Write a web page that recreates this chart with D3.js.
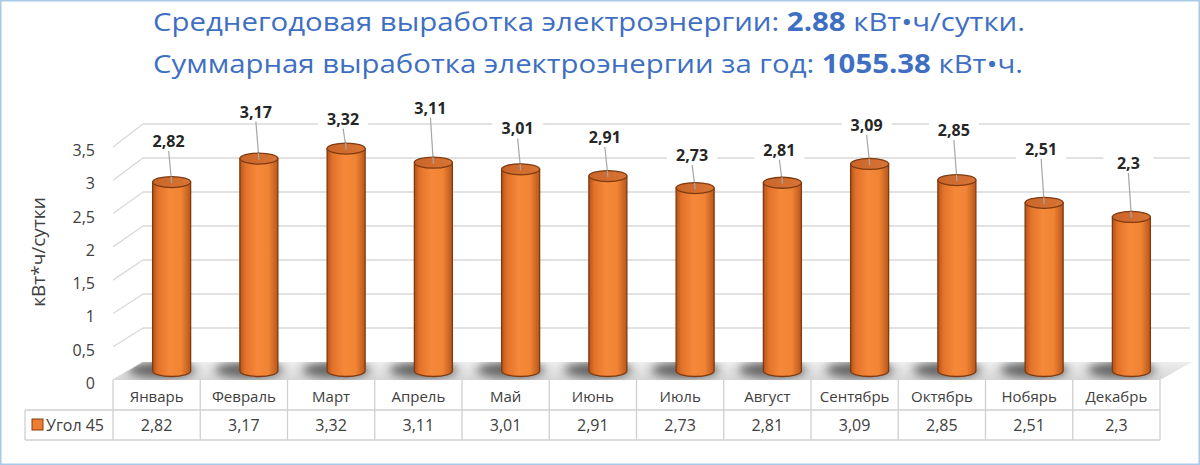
<!DOCTYPE html>
<html>
<head>
<meta charset="utf-8">
<script src="https://cdn.jsdelivr.net/npm/d3@7"></script>
<style>
  body { margin: 0; background: #fff; }
  svg { display: block; font-family: "Open Sans", "Noto Sans", sans-serif; }
</style>
</head>
<body>
<div id="chart"></div>
<script>

// chart data
const months = ["Январь", "Февраль", "Март", "Апрель", "Май", "Июнь", "Июль", "Август", "Сентябрь", "Октябрь", "Нобярь", "Декабрь"];
const values = [2.82, 3.17, 3.32, 3.11, 3.01, 2.91, 2.73, 2.81, 3.09, 2.85, 2.51, 2.3];
const valueText = ["2,82", "3,17", "3,32", "3,11", "3,01", "2,91", "2,73", "2,81", "3,09", "2,85", "2,51", "2,3"];
const yTicks = [0, 0.5, 1, 1.5, 2, 2.5, 3, 3.5];
const yTickText = ["0", "0,5", "1", "1,5", "2", "2,5", "3", "3,5"];
const seriesName = "Угол 45";
const avgValue = "2.88";
const totalValue = "1055.38";

// how far each data label was dragged above its bar (px)
const labelLift = [41, 47, 30, 55, 41, 39, 33, 33, 39, 50, 54, 54];

const W = 1200, H = 465;
const depthX = 30;          // wall depth, horizontal
const left = 113, right = 1160;
const floorFront = 380;

const svg = d3.select("#chart").append("svg")
	.attr("width", W)
	.attr("height", H);

const defs = svg.append("defs");

// cylinder body shading
let grad = defs.append("linearGradient").attr("id", "cyl").attr("x1", 0).attr("x2", 1).attr("y1", 0).attr("y2", 0);
grad.append("stop").attr("offset", "0%").attr("stop-color", "#b4531a");
grad.append("stop").attr("offset", "14%").attr("stop-color", "#e2722a");
grad.append("stop").attr("offset", "45%").attr("stop-color", "#f5883a");
grad.append("stop").attr("offset", "75%").attr("stop-color", "#f08434");
grad.append("stop").attr("offset", "100%").attr("stop-color", "#b9561b");

let topGrad = defs.append("linearGradient").attr("id", "cyltop").attr("x1", 0).attr("x2", 1).attr("y1", 0).attr("y2", 0);
topGrad.append("stop").attr("offset", "0%").attr("stop-color", "#c9652a");
topGrad.append("stop").attr("offset", "100%").attr("stop-color", "#d87535");

let floorGrad = defs.append("linearGradient").attr("id", "floor").attr("x1", 0).attr("x2", 0).attr("y1", 0).attr("y2", 1);
floorGrad.append("stop").attr("offset", "0%").attr("stop-color", "#eeeeee");
floorGrad.append("stop").attr("offset", "100%").attr("stop-color", "#d6d6d6");

defs.append("filter").attr("id", "blur").attr("x", "-50%").attr("y", "-100%").attr("width", "200%").attr("height", "300%")
	.append("feGaussianBlur").attr("stdDeviation", 5);

// scales
const x = d3.scaleBand().domain(months).range([left, right]);
const yBack = d3.scaleLinear().domain([0, 3.5]).range([362, 124]);
const yMid = d3.scaleLinear().domain([0, 3.5]).range([371, 136.5]);
// perspective: side wall lines get steeper towards the top
const depthY = d3.scaleLinear().domain([0, 3.5]).range([18, 23]);

function barX(m) {
	return x(m) + x.bandwidth() / 2 + 15;
}

// title
const title = svg.append("g").attr("fill", "#3f6fc2").attr("font-size", 26);
const t1 = title.append("text").attr("x", 153).attr("y", 31);
t1.append("tspan").text("Среднегодовая выработка электроэнергии: ");
t1.append("tspan").attr("font-weight", "bold").text(avgValue);
t1.append("tspan").text(" кВт•ч/сутки.");
const t2 = title.append("text").attr("x", 153).attr("y", 73);
t2.append("tspan").text("Суммарная выработка электроэнергии за год: ");
t2.append("tspan").attr("font-weight", "bold").text(totalValue);
t2.append("tspan").text(" кВт•ч.");
[[t1, 872], [t2, 870]].forEach(function (p) {
	p[0].attr("textLength", p[1]).attr("lengthAdjust", "spacingAndGlyphs");
});

// back wall gridlines and side wall
const grid = svg.append("g").attr("stroke", "#d9d9d9").attr("stroke-width", 1.3).attr("fill", "none");
yTicks.forEach(function (t) {
	if (t > 0) {
		grid.append("line")
			.attr("x1", left + depthX).attr("x2", right + depthX)
			.attr("y1", yBack(t)).attr("y2", yBack(t));
	}
	grid.append("line")
		.attr("x1", left).attr("y1", yBack(t) + depthY(t))
		.attr("x2", left + depthX).attr("y2", yBack(t));
});

// tick labels
svg.append("g").selectAll("text")
	.data(yTicks)
	.enter()
	.append("text")
	.attr("x", 95)
	.attr("y", function (t) { return yBack(t) + depthY(t) + 3; })
	.attr("text-anchor", "end")
	.attr("dominant-baseline", "central")
	.attr("font-size", 16)
	.attr("fill", "#404040")
	.text(function (t, i) { return yTickText[i]; });

// axis title
svg.append("text")
	.attr("transform", "translate(45,252) rotate(-90)")
	.attr("text-anchor", "middle")
	.attr("font-size", 19)
	.attr("fill", "#404040")
	.text("кВт*ч/сутки");

// floor
const floorPath = "M" + left + "," + floorFront + "L" + right + "," + floorFront +
	"L" + (right + depthX + 2) + "," + yBack(0) + "L" + (left + depthX) + "," + yBack(0) + "Z";
svg.append("path")
	.attr("d", floorPath)
	.attr("fill", "url(#floor)");

defs.append("clipPath").attr("id", "floorclip").append("path").attr("d", floorPath);

// cylinder shadows on the floor
svg.append("g").attr("clip-path", "url(#floorclip)")
	.selectAll("ellipse")
	.data(months)
	.enter()
	.append("ellipse")
	.attr("cx", function (m) { return barX(m) - 10; })
	.attr("cy", yMid(0) - 1)
	.attr("rx", 34)
	.attr("ry", 8)
	.attr("fill", "#555")
	.attr("opacity", 0.9)
	.attr("filter", "url(#blur)");

// data labels (white box hides the gridline behind)
const labels = svg.append("g");
months.forEach(function (m, i) {
	let cx = barX(m);
	let top = yMid(values[i]);
	let ly = top - labelLift[i];
	labels.append("rect")
		.attr("x", cx - 28).attr("y", ly - 11)
		.attr("width", 50).attr("height", 22)
		.attr("fill", "#fff");
	labels.append("line")
		.attr("x1", cx - 3).attr("y1", ly + 10)
		.attr("x2", cx).attr("y2", top)
		.attr("stroke", "#a6a6a6")
		.attr("stroke-width", 1.2);
});

// cylinders
const rx = 19, ry = 5.5;
const bars = svg.append("g").selectAll("g")
	.data(months)
	.enter()
	.append("g");

bars.append("path")
	.attr("d", function (m, i) {
		let cx = barX(m), top = yMid(values[i]), bot = yMid(0);
		return "M" + (cx - rx) + "," + top +
			"L" + (cx - rx) + "," + bot +
			"A" + rx + "," + ry + " 0 0 0 " + (cx + rx) + "," + bot +
			"L" + (cx + rx) + "," + top + "Z";
	})
	.attr("fill", "url(#cyl)")
	.attr("stroke", "#7f3a10")
	.attr("stroke-width", 1.3);

bars.append("ellipse")
	.attr("cx", function (m) { return barX(m); })
	.attr("cy", function (m, i) { return yMid(values[i]); })
	.attr("rx", rx)
	.attr("ry", ry)
	.attr("fill", "url(#cyltop)")
	.attr("stroke", "#7f3a10")
	.attr("stroke-width", 1.3);

// leader stub on top of the cylinder, and the value label
months.forEach(function (m, i) {
	let cx = barX(m);
	let top = yMid(values[i]);
	svg.append("line")
		.attr("x1", cx - 0.5).attr("y1", top - ry)
		.attr("x2", cx).attr("y2", top + 1)
		.attr("stroke", "#a6a6a6")
		.attr("stroke-width", 1.2);
	svg.append("text")
		.attr("x", cx - 3)
		.attr("y", top - labelLift[i])
		.attr("text-anchor", "middle")
		.attr("dominant-baseline", "central")
		.attr("font-size", 16)
		.attr("font-weight", "bold")
		.attr("fill", "#262626")
		.text(valueText[i]);
});

// data table
const table = svg.append("g");
const rowTop = floorFront, rowMid = 410, rowBot = 440;
const tl = table.append("g").attr("stroke", "#d0d0d0").attr("stroke-width", 1.3);
tl.append("line").attr("x1", 25).attr("x2", right).attr("y1", rowMid).attr("y2", rowMid);
tl.append("line").attr("x1", 25).attr("x2", right).attr("y1", rowBot).attr("y2", rowBot);
tl.append("line").attr("x1", 25).attr("x2", 25).attr("y1", rowMid).attr("y2", rowBot);
months.forEach(function (m) {
	tl.append("line").attr("x1", x(m)).attr("x2", x(m)).attr("y1", rowTop).attr("y2", rowBot);
});
tl.append("line").attr("x1", right).attr("x2", right).attr("y1", rowTop).attr("y2", rowBot);

table.selectAll(".month")
	.data(months)
	.enter()
	.append("text")
	.attr("x", function (m) { return x(m) + x.bandwidth() / 2; })
	.attr("y", (rowTop + rowMid) / 2 + 1)
	.attr("text-anchor", "middle")
	.attr("dominant-baseline", "central")
	.attr("font-size", 15)
	.attr("fill", "#404040")
	.text(function (m) { return m; });

table.selectAll(".val")
	.data(months)
	.enter()
	.append("text")
	.attr("x", function (m) { return x(m) + x.bandwidth() / 2; })
	.attr("y", (rowMid + rowBot) / 2)
	.attr("text-anchor", "middle")
	.attr("dominant-baseline", "central")
	.attr("font-size", 16)
	.attr("fill", "#404040")
	.text(function (m, i) { return valueText[i]; });

// legend key in the table
table.append("rect")
	.attr("x", 32).attr("y", 419).attr("width", 11).attr("height", 11)
	.attr("fill", "#ed7d31").attr("stroke", "#843c0c").attr("stroke-width", 1);
table.append("text")
	.attr("x", 46).attr("y", 425)
	.attr("dominant-baseline", "central")
	.attr("font-size", 16)
	.attr("fill", "#404040")
	.text(seriesName);

// frame round the picture
svg.append("rect")
	.attr("x", 0.75).attr("y", 0.75)
	.attr("width", W - 1.5).attr("height", H - 1.5)
	.attr("fill", "none")
	.attr("stroke", "#a9c9e8")
	.attr("stroke-width", 1.5);

</script>
</body>
</html>
